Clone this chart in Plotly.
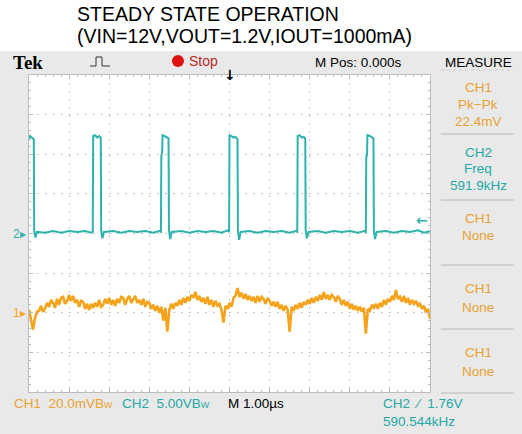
import plotly.graph_objects as go

# ---------------- data ----------------
# CH2 (switch node), time in us, volts
ch2_t = [-5.0, -4.97, -4.93, -4.9, -4.88, -4.87, -4.84, -4.8,
         -4.6, -4.4, -4.2, -4.0, -3.8, -3.6, -3.45,
         -3.41, -3.40, -3.35, -3.3, -3.25, -3.21, -3.20, -3.17, -3.13,
         -2.9, -2.7, -2.5, -2.3, -2.1, -1.9, -1.75,
         -1.71, -1.70, -1.68, -1.67, -1.62, -1.57, -1.52, -1.51, -1.48, -1.44,
         -1.2, -1.0, -0.8, -0.6, -0.4, -0.2, -0.05,
         -0.01, 0.0, 0.05, 0.1, 0.15, 0.2, 0.21, 0.24, 0.28,
         0.5, 0.7, 0.9, 1.1, 1.3, 1.5, 1.65,
         1.69, 1.70, 1.75, 1.8, 1.85, 1.89, 1.90, 1.93, 1.97,
         2.2, 2.4, 2.6, 2.8, 3.0, 3.2, 3.36,
         3.40, 3.41, 3.43, 3.44, 3.5, 3.55, 3.59, 3.60, 3.63, 3.67,
         3.9, 4.1, 4.3, 4.5, 4.7, 4.85, 5.0]
ch2_v = [11.8, 12.3, 12.1, 12.0, 11.9, 0.3, -0.5, 0.2,
         0.1, 0.3, 0.1, 0.3, 0.2, 0.3, 0.1,
         0.2, 12.3, 12.4, 12.1, 12.3, 12.1, 0.4, -0.6, 0.2,
         0.3, 0.1, 0.3, 0.2, 0.3, 0.1, 0.3,
         0.2, 9.8, 10.2, 12.4, 12.3, 12.1, 12.0, 0.5, -0.7, 0.2,
         0.3, 0.1, 0.3, 0.2, 0.3, 0.1, 0.4,
         0.2, 12.4, 12.3, 12.1, 12.2, 11.9, 0.4, -0.8, 0.2,
         0.3, 0.1, 0.3, 0.2, 0.3, 0.1, 0.3,
         0.2, 12.3, 12.4, 12.1, 12.2, 12.0, 0.4, -0.6, 0.2,
         0.3, 0.1, 0.3, 0.2, 0.3, 0.1, 0.3,
         0.2, 9.5, 10.0, 12.4, 12.3, 12.1, 12.0, 0.4, -0.7, 0.2,
         0.3, 0.1, 0.3, 0.2, 0.4, 0.1, 0.3]

# CH1 (output ripple), samples every 0.05 us from -5 us to +5 us, mV
ch1_t0 = -5.0
ch1_dt = 0.05
ch1_mv = [1.5, -3, -8.5, -2.5, 0.5,
          1, 3.5, 0.5, 2, 5,
          3, 6.5, 5, 2.5, 7,
          4, 7.5, 8, 4.5, 6,
          9, 6, 8.5, 5, 6.5,
          3, 6, 5.5, 2, 4.5,
          1.5, 4.5, 2.5, 5, 3,
          6.5, 3, 4, 7, 4.5,
          7.5, 4, 6.5, 3.5, 7,
          5, 8, 7.5, 4, 7,
          8.5, 5, 7, 8.5, 5,
          6.5, 4, 7, 3, 5.5,
          5, 2, 4, 1, 3.5,
          0, 3, -4, 2.5, -9.5,
          1.5, 4.5, 2, 5, 3.5,
          6.5, 4, 7.5, 5, 8,
          6, 9, 7.5, 10.5, 6.5,
          8.5, 5.5, 7.5, 4.5, 8,
          4, 6.5, 3, 6, 3.5,
          4.5, 1.5, -5, 3.5, 2,
          5, 3, 7.5, 8.5, 12.5,
          8, 10, 7, 9.5, 6.5,
          8.5, 6, 8, 5, 8.5,
          5.5, 8, 7, 4.5, 7.5,
          6, 3.5, 5.5, 3, 5.5,
          2, 4, 1, 3.5, 1.5,
          -9.5, 3, 1, 4, 2,
          5, 2.5, 5.5, 4, 6.5,
          4.5, 7.5, 5, 8, 6,
          9, 6.5, 10.5, 7, 9,
          6.5, 9, 8, 5.5, 8.5,
          7, 4, 6.5, 3.5, 5.5,
          2, 4.5, 1.5, 3.5, 1,
          3, 0.5, 2.5, -10.5, 2,
          1, 4, 2.5, 4.5, 2,
          5, 3, 6.5, 4, 7,
          5.5, 8.5, 6.5, 11.5, 7,
          8, 5.5, 8.5, 5, 7.5,
          4, 6.5, 4.5, 6, 3.5,
          4.5, 2, 3.5, 0, 2,
          -3]
ch1_t = [round(ch1_t0 + i * ch1_dt, 3) for i in range(len(ch1_mv))]

title_lines = ["STEADY STATE OPERATION", "(VIN=12V,VOUT=1.2V,IOUT=1000mA)"]
measure_items = [("CH1", "Pk−Pk", "22.4mV"), ("CH2", "Freq", "591.9kHz"),
                 ("CH1", "None", None), ("CH1", "None", None), ("CH1", "None", None)]
trigger_level_v = 1.76

# ---------------- styling ----------------
W, H = 522, 434
L, R, T, B = 29, 430, 75, 392
ORANGE = "#f6a31c"
ORANGE_TXT = "#e8a234"
CYAN = "#2cb3ad"
CYAN_TXT = "#25a8a6"
BG = "#e9e9e9"
GRID = "#c4c4c4"
FONT = "Liberation Sans, Arial, sans-serif"


def px(x):
    return (x - L) / (R - L)


def py(y):
    return (B - y) / (B - T)


fig = go.Figure()
fig.add_trace(go.Scatter(x=ch2_t, y=ch2_v, mode="lines", yaxis="y",
                         line=dict(color=CYAN, width=2), hoverinfo="skip"))
fig.add_trace(go.Scatter(x=ch1_t, y=ch1_mv, mode="lines", yaxis="y2",
                         line=dict(color=ORANGE, width=2.6), hoverinfo="skip"))

axis_common = dict(showticklabels=False, showline=True, linecolor="#bdbdbd",
                   linewidth=1, mirror="ticks", ticks="inside", ticklen=4,
                   tickcolor="#bdbdbd", showgrid=True, gridcolor=GRID,
                   griddash="2px,6px", gridwidth=1, zeroline=False,
                   fixedrange=True)

fig.update_layout(
    width=W, height=H, autosize=False,
    margin=dict(l=L, r=W - R, t=T, b=H - B, pad=0),
    paper_bgcolor=BG, plot_bgcolor="white", showlegend=False,
    xaxis=dict(range=[-5, 5], dtick=1, tick0=-5,
               minor=dict(dtick=0.2, ticks="inside", ticklen=2,
                          tickcolor="#bdbdbd", showgrid=False),
               **axis_common),
    yaxis=dict(range=[-20, 20], dtick=5, tick0=-20,
               minor=dict(dtick=1, ticks="inside", ticklen=2,
                          tickcolor="#bdbdbd", showgrid=False),
               **axis_common),
    yaxis2=dict(range=[-40, 120], overlaying="y", visible=False,
                fixedrange=True),
    font=dict(family=FONT, size=13),
)

shapes = []
# white title area
shapes.append(dict(type="rect", xref="paper", yref="paper", x0=px(0), x1=px(W),
                   y0=py(51), y1=py(0), fillcolor="white", line=dict(width=0),
                   layer="below"))
# measure separators
for ys in [134, 200, 265, 329, 393]:
    shapes.append(dict(type="line", xref="paper", yref="paper", x0=px(441),
                       x1=px(514), y0=py(ys), y1=py(ys),
                       line=dict(color="#b8b8b8", width=1)))
# small separator under MEASURE
shapes.append(dict(type="line", xref="paper", yref="paper", x0=px(441),
                   x1=px(514), y0=py(70), y1=py(70),
                   line=dict(color="#cfcfcf", width=1, dash="dot")))
# run/stop dot
shapes.append(dict(type="circle", xref="paper", yref="paper", x0=px(172),
                   x1=px(184), y0=py(55), y1=py(67), fillcolor="#dd1111",
                   line=dict(width=0)))
# acquisition icon (pulse)
icon = "M {},{} L {},{} L {},{} L {},{} L {},{} L {},{}".format(
    px(90), py(66), px(96), py(66), px(96), py(57), px(102), py(57),
    px(102), py(66), px(110), py(66))
shapes.append(dict(type="path", xref="paper", yref="paper", path=icon,
                   line=dict(color="#333333", width=1)))
fig.update_layout(shapes=shapes)

ann = []


def text(x, y, s, color="black", size=13, anchor="left", family=FONT, **kw):
    ann.append(dict(x=px(x), y=py(y), xref="paper", yref="paper", text=s,
                    showarrow=False, xanchor=anchor, yanchor="middle",
                    font=dict(color=color, size=size, family=family), **kw))


text(75, 14, title_lines[0], size=19.5, family="Liberation Sans, Arial")
text(75, 36, title_lines[1], size=19.5, family="Liberation Sans, Arial")
text(11, 62, "<b>Tek</b>", size=19, family="Liberation Serif, DejaVu Serif, serif")
text(187, 61, "Stop", color="#b8292b", size=14)
text(358, 62, "M Pos: 0.000s", size=13.5, anchor="center")
text(478, 62, "MEASURE", size=13.5, anchor="center")

rows = [(88, 105, 122), (152, 168, 185), (218, 235, None), (288, 307, None),
        (352, 371, None)]
for (a, b, c), (r1, r2, r3) in zip(measure_items, rows):
    col = CYAN_TXT if a == "CH2" else ORANGE_TXT
    text(478, r1, a, color=col, size=13.5, anchor="center")
    text(478, r2, b, color=col, size=13.5, anchor="center")
    if c:
        text(478, r3, c, color=col, size=13.5, anchor="center")

text(12, 403, "CH1  20.0mVB<span style='font-size:9px'>W</span>",
     color=ORANGE_TXT, size=13.5)
text(120, 403, "CH2  5.00VB<span style='font-size:9px'>W</span>",
     color=CYAN_TXT, size=13.5)
text(226, 403, "M 1.00µs", size=13.5)
text(381, 403, "CH2  ⁄  1.76V", color=CYAN_TXT, size=13.5)
text(381, 421, "590.544kHz", color=CYAN_TXT, size=13.5)

# channel ground markers and trigger markers (data-referenced)
ann.append(dict(x=-0.002, y=0, xref="paper", yref="y", text="2▸",
                showarrow=False, xanchor="right", yanchor="middle",
                font=dict(color=CYAN, size=12, family=FONT)))
ann.append(dict(x=-0.002, y=0, xref="paper", yref="y2", text="1▸",
                showarrow=False, xanchor="right", yanchor="middle",
                font=dict(color=ORANGE, size=12, family=FONT)))
ann.append(dict(x=1.0, y=trigger_level_v, xref="paper", yref="y", text="<b>←</b>",
                showarrow=False, xanchor="right", yanchor="middle",
                font=dict(color=CYAN, size=14, family="DejaVu Sans")))
ann.append(dict(x=0, y=1.0, xref="x", yref="paper", text="<b>↓</b>",
                showarrow=False, xanchor="center", yanchor="middle",
                font=dict(color="black", size=14, family="DejaVu Sans")))
fig.update_layout(annotations=ann)

fig.write_html("out.html", config={"displayModeBar": False},
               post_script="document.body.style.margin='0px';")
